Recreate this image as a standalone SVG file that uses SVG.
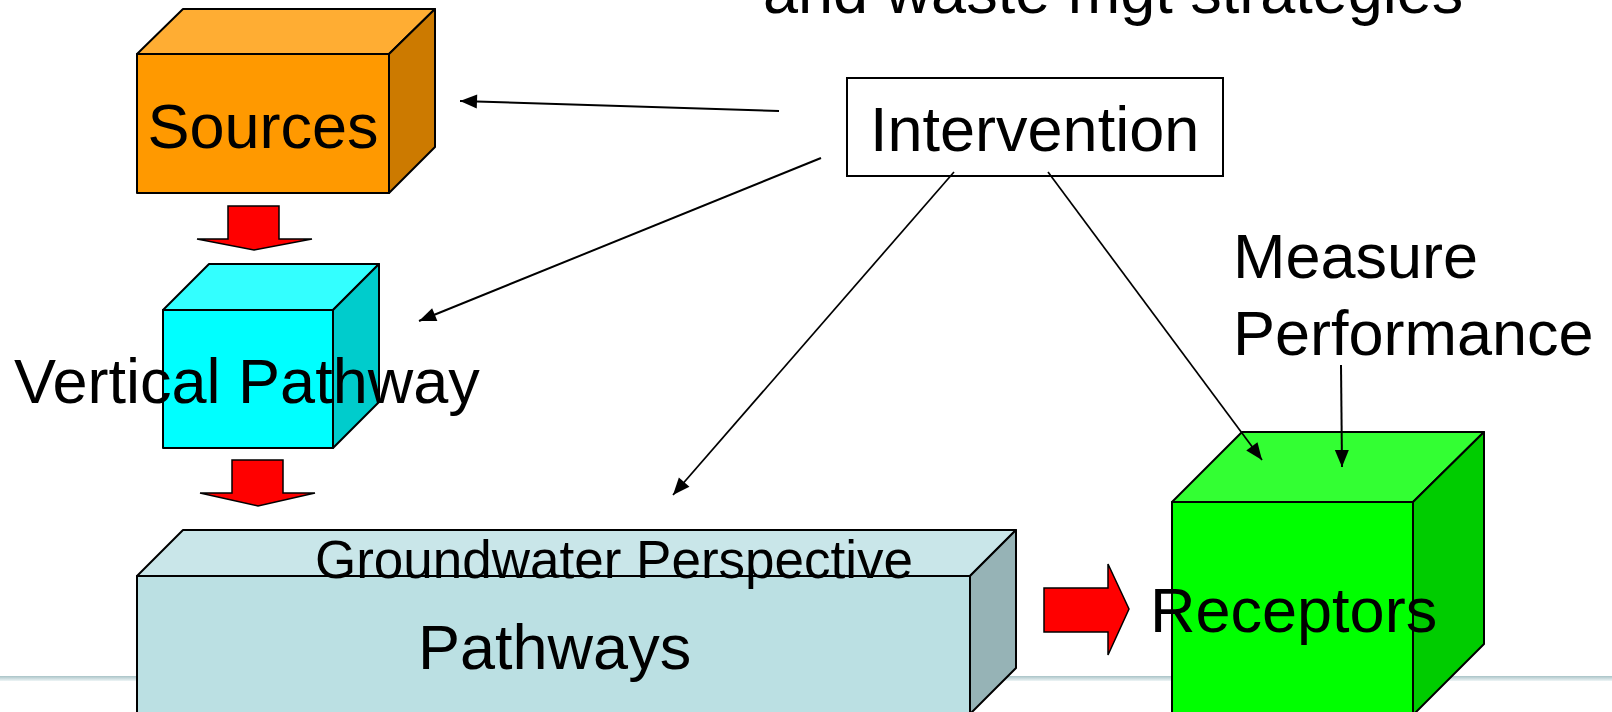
<svg xmlns="http://www.w3.org/2000/svg" width="1612" height="712" viewBox="0 0 1612 712">
<style>
text{font-family:"Liberation Sans",Arial,sans-serif;fill:#000}
.big{font-size:63px}
.face{stroke:#000;stroke-width:2;stroke-linejoin:round}
.red{fill:#FF0000;stroke:#000;stroke-width:1.5}
.conn{stroke:#000;fill:none}
</style>
<defs>
<marker id="ah" markerUnits="userSpaceOnUse" markerWidth="20" markerHeight="16" viewBox="0 -8 18 16" refX="17" refY="0" orient="auto">
<path d="M0,-7 L17,0 L0,7 Z" fill="#000"/>
</marker>
<linearGradient id="foot" x1="0" y1="0" x2="0" y2="1">
<stop offset="0" stop-color="#a9c3c7"/>
<stop offset="1" stop-color="#eef5f6"/>
</linearGradient>
</defs>
<rect width="1612" height="712" fill="#fff"/>
<rect id="footer" x="0" y="676" width="1612" height="5" fill="url(#foot)"/>
<text id="title" class="big" x="763" y="13">and waste mgt strategies</text>

<g id="sources">
<polygon class="face" fill="#FFAD33" points="137,54 183,9 435,9 389,54"/>
<polygon class="face" fill="#CC7A00" points="389,54 435,9 435,147 389,193"/>
<rect class="face" fill="#FF9900" x="137" y="54" width="252" height="139"/>
<text class="big" x="263" y="148" text-anchor="middle">Sources</text>
</g>

<g id="vertical-pathway">
<polygon class="face" fill="#33FFFF" points="163,310 209,264 379,264 333,310"/>
<polygon class="face" fill="#00CCCC" points="333,310 379,264 379,402 333,448"/>
<rect class="face" fill="#00FFFF" x="163" y="310" width="170" height="138"/>
<text class="big" x="14" y="403">Vertical Pathway</text>
</g>

<g id="pathways">
<polygon class="face" fill="#C9E6E9" points="137,576 183,530 1016,530 970,576"/>
<polygon class="face" fill="#96B3B6" points="970,576 1016,530 1016,668 970,714"/>
<rect class="face" fill="#BBE0E3" x="137" y="576" width="833" height="150"/>
<text x="315" y="578" font-size="53">Groundwater Perspective</text>
<text class="big" x="418" y="669">Pathways</text>
</g>

<g id="receptors">
<polygon class="face" fill="#33FF33" points="1172,502 1242,432 1484,432 1413,502"/>
<polygon class="face" fill="#00CC00" points="1413,502 1484,432 1484,644 1413,715"/>
<rect class="face" fill="#00FF00" x="1172" y="502" width="241" height="230"/>
<text class="big" x="1150" y="632">Receptors</text>
</g>

<g id="intervention">
<rect x="847" y="78" width="376" height="98" fill="#fff" stroke="#000" stroke-width="2"/>
<text class="big" x="870" y="151">Intervention</text>
</g>

<g id="measure-performance">
<text class="big" x="1233" y="278">Measure</text>
<text class="big" x="1233" y="355">Performance</text>
</g>

<g id="block-arrows">
<polygon class="red" points="228,206 279,206 279,239 312,239 254,250 197,239 228,239"/>
<polygon class="red" points="232,460 283,460 283,493 315,493 258,506 200,493 232,493"/>
<polygon class="red" points="1044,588 1108,588 1108,564 1129,609 1108,655 1108,632 1044,632"/>
</g>

<g id="connectors">
<line class="conn" stroke-width="2" x1="779" y1="111" x2="460" y2="101" marker-end="url(#ah)"/>
<line class="conn" stroke-width="2" x1="821" y1="158" x2="419" y2="321" marker-end="url(#ah)"/>
<line class="conn" stroke-width="1.7" x1="954" y1="172" x2="673" y2="495" marker-end="url(#ah)"/>
<line class="conn" stroke-width="1.7" x1="1048" y1="172" x2="1262" y2="460" marker-end="url(#ah)"/>
<line class="conn" stroke-width="2" x1="1341" y1="365" x2="1342" y2="467" marker-end="url(#ah)"/>
</g>
</svg>
